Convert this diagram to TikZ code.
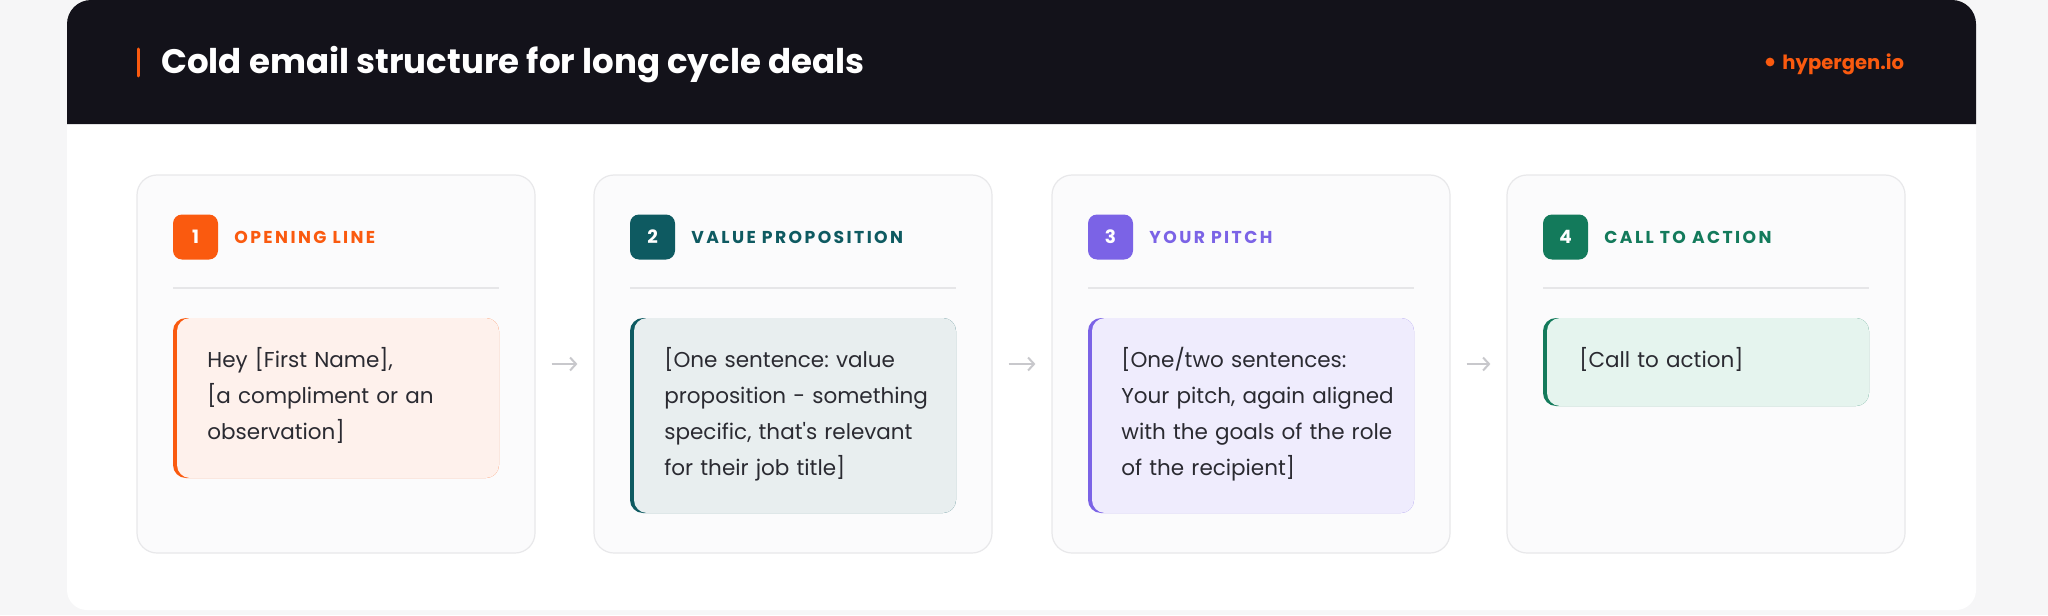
\documentclass[tikz,border=0pt]{standalone}
\usepackage{fontspec}
\setmainfont{Poppins}
\newfontfamily\labelfont[LetterSpace=14]{Poppins}
\usetikzlibrary{arrows.meta}
\frenchspacing

\definecolor{pagebg}{HTML}{F6F6F7}
\definecolor{hdrdark}{HTML}{13121A}
\definecolor{hgorange}{HTML}{FA5A0F}
\definecolor{orangetint}{HTML}{FEF1EC}
\definecolor{tealdark}{HTML}{0E5A61}
\definecolor{tealtint}{HTML}{E8EEEF}
\definecolor{pitchpurple}{HTML}{7B63E6}
\definecolor{purpletint}{HTML}{EFECFD}
\definecolor{ctagreen}{HTML}{137A5B}
\definecolor{greentint}{HTML}{E5F4EE}
\definecolor{cardfill}{HTML}{FBFBFC}
\definecolor{cardline}{HTML}{E8E8EA}
\definecolor{sepgray}{HTML}{E6E6E8}
\definecolor{bodytext}{HTML}{2A2A31}
\definecolor{arrowgray}{HTML}{C8C8CC}

\tikzset{
  stepbox/.style={draw=cardline, fill=cardfill, line width=0.6pt,
    rounded corners=10pt, minimum width=199pt, minimum height=189pt},
  badge/.style={minimum size=22.5pt, rounded corners=4.5pt, inner sep=0pt,
    text=white, font=\bfseries\fontsize{9.2pt}{10pt}\selectfont},
  steplabel/.style={anchor=west, inner sep=0pt,
    font=\labelfont\bfseries\fontsize{8.6pt}{10pt}\selectfont},
  sepline/.style={draw=sepgray, line width=0.6pt},
  msgtext/.style={anchor=north west, inner sep=0pt, text width=160pt,
    align=left, text=bodytext, font=\fontsize{10.75pt}{18pt}\selectfont,
    execute at begin node=\strut},
  flowarrow/.style={draw=arrowgray, line width=1pt, shorten <=8pt, shorten >=8pt,
    -{Straight Barb[length=3pt,width=6.5pt]}}
}

\begin{document}
\begin{tikzpicture}[x=0.5pt,y=-0.5pt]
  \useasboundingbox (0,0) rectangle (2048,615);
  % page and card
  \fill[pagebg] (0,0) rectangle (2048,615);
  \fill[white, rounded corners=10pt] (67,20) rectangle (1976,610);
  % dark header
  \fill[hdrdark] (67,124) [rounded corners=12pt] -- (67,0) -- (1976,0)
    [sharp corners] -- (1976,124) -- cycle;
  \draw[hgorange, line width=1.5pt, line cap=round] (138,49) -- (138,76);
  \node[anchor=base west, inner sep=0pt, text=white,
    font=\bfseries\fontsize{17pt}{20pt}\selectfont] (title) at (161,74)
    {Cold email structure for long cycle deals};
  \fill[hgorange] (1770,62) circle (2.2pt);
  \node[anchor=base west, inner sep=0pt, text=hgorange,
    font=\bfseries\fontsize{9.8pt}{11pt}\selectfont] (brand) at (1782,69)
    {hypergen.io};

  % the four steps
  \foreach \x/\num/\col/\tint/\lab/\h in {
      137/1/hgorange/orangetint/OPENING LINE/160,
      594/2/tealdark/tealtint/VALUE PROPOSITION/195,
      1052/3/pitchpurple/purpletint/YOUR PITCH/195,
      1507/4/ctagreen/greentint/CALL TO ACTION/88}{
    \node[stepbox] (step\num) at (\x+199,364) {};
    \node[badge, fill=\col] (badge\num) at (\x+58.5,237) {\num};
    \node[steplabel, text=\col] (label\num) at (\x+97,237) {\lab};
    \draw[sepline] (\x+36,288) -- (\x+362,288);
    % message box with left accent
    \fill[\col, rounded corners=6.5pt] (\x+36,318) rectangle (\x+362,318+\h);
    \fill[\tint, rounded corners=6.5pt] (\x+40,318) rectangle (\x+362,318+\h);
  }

  % message texts
  \node[msgtext] (msg1) at (207,342)
    {Hey [First Name],\\{}[a compliment or an\\ observation]};
  \node[msgtext] (msg2) at (664,342)
    {[One sentence: value\\ proposition - something\\ specific, that\textquotesingle s relevant\\ for their job title]};
  \node[msgtext] (msg3) at (1121,342)
    {[One/two sentences:\\ Your pitch, again aligned\\ with the goals of the role\\ of the recipient]};
  \node[msgtext] (msg4) at (1579,342) {[Call to action]};

  % arrows between steps
  \foreach \a/\b in {1/2,2/3,3/4}
    \draw[flowarrow] (step\a) -- (step\b);
\end{tikzpicture}
\end{document}
